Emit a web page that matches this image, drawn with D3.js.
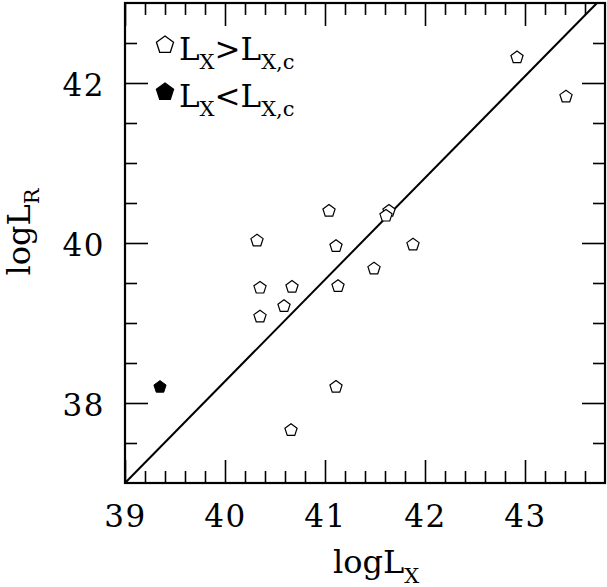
<!DOCTYPE html>
<html lang="en">
<head>
    <meta charset="UTF-8">
    <title>logL_R vs logL_X</title>
    <script src="https://d3js.org/d3.v7.min.js"></script>
    <style>
        body { margin: 0; background: #fff; }
        svg { font-family: "DejaVu Serif", serif; }
        .tick-label { font-size: 31px; letter-spacing: 1.5px; }
        .title { font-size: 32px; }
        .legend { font-size: 31px; }
        .sub { font-size: 21px; letter-spacing: 0; }
    </style>
</head>
<body>
    <div id="chart"></div>

    <script>
        // Open pentagons: L_X > L_X,c
        const openLogLX = [42.92, 43.41, 41.04, 40.32, 41.11, 40.35, 40.67, 41.13, 40.59, 40.35, 41.64, 41.61, 41.88, 41.49, 41.11, 40.66];
        const openLogLR = [42.32, 41.83, 40.40, 40.03, 39.96, 39.44, 39.45, 39.46, 39.21, 39.08, 40.40, 40.34, 39.98, 39.68, 38.20, 37.66];

        // Filled pentagon: L_X < L_X,c
        const filledLogLX = [39.35];
        const filledLogLR = [38.20];

        // Relation line end points
        const lineLogLX = [39, 43.72];
        const lineLogLR = [37, 43];

        const xMajorTicks = [39, 40, 41, 42, 43];
        const yMajorTicks = [38, 40, 42];

        const margin = { top: 3, right: 2, bottom: 104, left: 125 };
        const width = 480;
        const height = 480;

        const svg = d3.select("#chart")
            .append("svg")
            .attr("width", width + margin.left + margin.right)
            .attr("height", height + margin.top + margin.bottom);

        const g = svg.append("g")
            .attr("transform", `translate(${margin.left},${margin.top})`);

        const x = d3.scaleLinear().domain([39, 43.8]).range([0, width]);
        const y = d3.scaleLinear().domain([37, 43]).range([height, 0]);

        // minor ticks every 0.2 in x, 0.5 in y
        const xMinor = d3.range(39.2, 43.8, 0.2).map(v => +v.toFixed(1)).filter(v => !xMajorTicks.includes(v));
        const yMinor = d3.range(37.5, 43, 0.5).filter(v => !yMajorTicks.includes(v));

        const majorLen = 23, minorLen = 12;

        function tickAxis(axisFn, ticks, len, labels) {
            return axisFn.tickValues(ticks).tickSizeInner(-len).tickSizeOuter(0)
                .tickFormat(labels ? d3.format("d") : "");
        }

        // Bottom
        const bottomMajor = g.append("g").attr("transform", `translate(0,${height})`)
            .call(tickAxis(d3.axisBottom(x), xMajorTicks, majorLen, true));
        g.append("g").attr("transform", `translate(0,${height})`)
            .call(tickAxis(d3.axisBottom(x), xMinor, minorLen, false));
        // Top
        g.append("g").call(tickAxis(d3.axisTop(x), xMajorTicks, majorLen, false));
        g.append("g").call(tickAxis(d3.axisTop(x), xMinor, minorLen, false));
        // Left
        const leftMajor = g.append("g")
            .call(tickAxis(d3.axisLeft(y), yMajorTicks, majorLen, true));
        g.append("g").call(tickAxis(d3.axisLeft(y), yMinor, minorLen, false));
        // Right
        g.append("g").attr("transform", `translate(${width},0)`)
            .call(tickAxis(d3.axisRight(y), yMajorTicks, majorLen, false));
        g.append("g").attr("transform", `translate(${width},0)`)
            .call(tickAxis(d3.axisRight(y), yMinor, minorLen, false));

        g.selectAll(".domain").remove();
        g.selectAll(".tick line").attr("stroke", "#000").attr("stroke-width", 1.6);
        g.selectAll("g").attr("font-family", null).attr("font-size", null);

        bottomMajor.selectAll(".tick text")
            .attr("class", "tick-label")
            .attr("fill", "#000")
            .attr("y", 0).attr("dy", 44);
        leftMajor.selectAll(".tick text")
            .attr("class", "tick-label")
            .attr("fill", "#000")
            .attr("x", -20).attr("dy", 12);

        // Frame
        g.append("rect")
            .attr("x", 0).attr("y", 0)
            .attr("width", width).attr("height", height)
            .attr("fill", "none")
            .attr("stroke", "#000")
            .attr("stroke-width", 2.2);

        // Relation line
        const lineData = lineLogLX.map((v, i) => ({ lx: v, lr: lineLogLR[i] }));
        g.append("path")
            .datum(lineData)
            .attr("fill", "none")
            .attr("stroke", "#000")
            .attr("stroke-width", 2)
            .attr("d", d3.line().x(d => x(d.lx)).y(d => y(d.lr)));

        // Pentagon symbol, point up; size used as radius
        const pentagon = {
            draw(context, r) {
                for (let i = 0; i < 5; i++) {
                    const a = -Math.PI / 2 + i * 2 * Math.PI / 5;
                    const px = r * Math.cos(a), py = r * Math.sin(a);
                    if (i === 0) context.moveTo(px, py); else context.lineTo(px, py);
                }
                context.closePath();
            }
        };

        const openData = openLogLX.map((v, i) => ({ lx: v, lr: openLogLR[i] }));
        const filledData = filledLogLX.map((v, i) => ({ lx: v, lr: filledLogLR[i] }));

        g.selectAll(".open-pt")
            .data(openData)
            .join("path")
            .attr("class", "open-pt")
            .attr("transform", d => `translate(${x(d.lx)},${y(d.lr)})`)
            .attr("d", d3.symbol(pentagon, 6.4))
            .attr("fill", "#fff")
            .attr("stroke", "#000")
            .attr("stroke-width", 1.2);

        g.selectAll(".filled-pt")
            .data(filledData)
            .join("path")
            .attr("class", "filled-pt")
            .attr("transform", d => `translate(${x(d.lx)},${y(d.lr)})`)
            .attr("d", d3.symbol(pentagon, 6.4))
            .attr("fill", "#000")
            .attr("stroke", "#000")
            .attr("stroke-width", 1);

        // Legend
        const legendItems = [
            { filled: false, op: ">", top: 45 },
            { filled: true, op: "<", top: 92 }
        ];
        legendItems.forEach(item => {
            svg.append("path")
                .attr("transform", `translate(165,${item.top})`)
                .attr("d", d3.symbol(pentagon, 9))
                .attr("fill", item.filled ? "#000" : "#fff")
                .attr("stroke", "#000")
                .attr("stroke-width", 1.3);
            const t = svg.append("text")
                .attr("class", "legend")
                .attr("x", 179)
                .attr("y", item.top + 15);
            t.append("tspan").text("L");
            t.append("tspan").attr("class", "sub").attr("dy", 9).text("X");
            t.append("tspan").attr("dy", -9).text(item.op);
            t.append("tspan").text("L");
            t.append("tspan").attr("class", "sub").attr("dy", 9).text("X,c");
        });

        // Axis titles
        const xt = svg.append("text")
            .attr("class", "title")
            .attr("x", 376)
            .attr("y", 573)
            .attr("text-anchor", "middle");
        xt.append("tspan").text("logL");
        xt.append("tspan").attr("class", "sub").attr("dy", 10).text("X");

        const yt = svg.append("text")
            .attr("class", "title")
            .attr("transform", "translate(30,232) rotate(-90)")
            .attr("text-anchor", "middle");
        yt.append("tspan").text("logL");
        yt.append("tspan").attr("class", "sub").attr("dy", 9).text("R");
    </script>
</body>
</html>
